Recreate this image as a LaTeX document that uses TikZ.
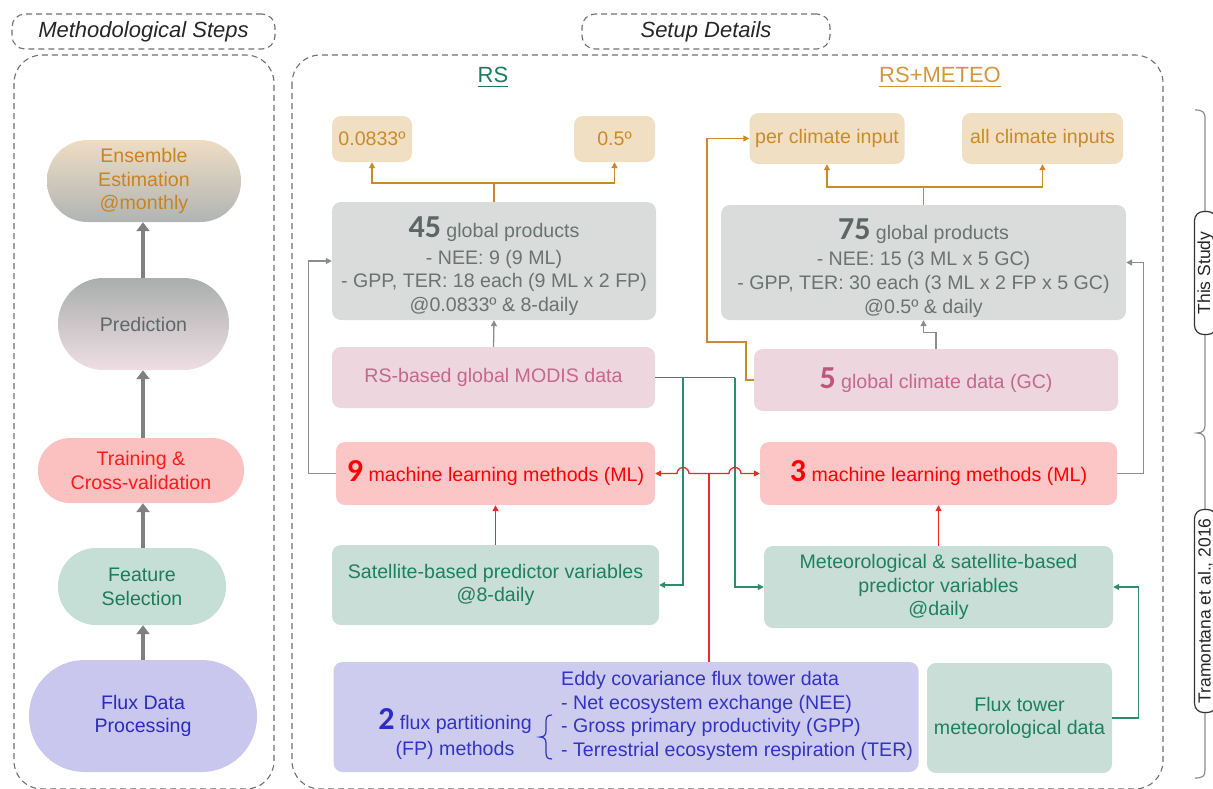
\documentclass[tikz,border=0pt]{standalone}
\usepackage{fontspec}
\setmainfont{Liberation Sans}
\newfontfamily\numfont{Carlito}
\usetikzlibrary{arrows.meta}
\definecolor{beigeF}{HTML}{F1DFC4}
\definecolor{orangeT}{HTML}{C98A2B}
\definecolor{grayF}{HTML}{DADCDB}
\definecolor{grayT}{HTML}{6B7371}
\definecolor{numG}{HTML}{5E6665}
\definecolor{pinkF}{HTML}{EDD6DD}
\definecolor{pinkT}{HTML}{C4688C}
\definecolor{numP}{HTML}{C0557C}
\definecolor{redF}{HTML}{FDC6C6}
\definecolor{redT}{HTML}{FF0000}
\definecolor{greenF}{HTML}{C9DED7}
\definecolor{greenT}{HTML}{1E8060}
\definecolor{purpF}{HTML}{CDCCEE}
\definecolor{blueT}{HTML}{3333C2}
\definecolor{numB}{HTML}{2D2DC0}
\definecolor{ocon}{HTML}{C98A2B}
\definecolor{gcon}{HTML}{8C8C8C}
\definecolor{grcon}{HTML}{2E8B6B}
\definecolor{rcon}{HTML}{E82A2A}
\definecolor{dashC}{HTML}{707070}
\definecolor{stepA}{HTML}{808080}
\definecolor{ensTop}{HTML}{EEDDC3}
\definecolor{ensBot}{HTML}{B0B4B4}
\definecolor{ensText}{HTML}{C9841F}
\definecolor{predTop}{HTML}{A9AEAD}
\definecolor{predBot}{HTML}{EFDEE4}
\definecolor{predText}{HTML}{5F6767}
\definecolor{trainF}{HTML}{FBC1C1}
\definecolor{trainT}{HTML}{FF1A1A}
\definecolor{featF}{HTML}{C6DFD6}
\definecolor{featT}{HTML}{1F7A5A}
\definecolor{fluxF}{HTML}{C9C7EE}
\definecolor{fluxT}{HTML}{2B2BB8}
\definecolor{rsG}{HTML}{1F7A5A}
\definecolor{rsO}{HTML}{D4963C}
\newcommand{\bnum}[2]{{\numfont\bfseries\fontsize{32}{32}\selectfont\color{#1}#2}}
\begin{document}
\begin{tikzpicture}[x=1pt,y=-1pt,
  base/.style={font=\fontsize{19.6}{23.7}\selectfont, align=center, inner sep=0pt},
  dashbox/.style={draw=dashC, line width=1.1pt, dash pattern=on 6pt off 4pt},
  hdr/.style={dashbox, base, rounded corners=13pt, font=\fontsize{22}{26}\selectfont\itshape, text=black!85},
  rbox/.style={base, rounded corners=9pt},
  beige/.style={rbox, fill=beigeF, text=orangeT},
  grayb/.style={rbox, fill=grayF, text=grayT},
  pinkb/.style={rbox, fill=pinkF, text=pinkT},
  redb/.style={rbox, fill=redF, text=redT},
  greenb/.style={rbox, fill=greenF, text=greenT},
  purpb/.style={rbox, fill=purpF, text=blueT},
  steparrow/.style={draw=stepA, line width=4.5pt, -{Triangle[length=9pt,width=13pt]}},
  tip/.style={-{Triangle[length=6pt,width=6pt]}},
  oline/.style={draw=ocon, line width=1.3pt},
  gline/.style={draw=gcon, line width=1.3pt},
  grline/.style={draw=grcon, line width=1.3pt},
  rline/.style={draw=rcon, line width=1.3pt},
  heading/.style={base, font=\fontsize{22}{26}\selectfont},
  lbl/.style={base, draw=black!80, line width=1.2pt, fill=white, rounded corners=9pt, rotate=90, font=\fontsize{17.5}{21}\selectfont, text=black!85}
]
\path[use as bounding box] (0,0) rectangle (1213,788);
\clip (0,0) rectangle (1213,788);

% panels
\node[hdr, minimum width=263pt, minimum height=35pt] (hdrL) at (143.5,31.5) {Methodological Steps};
\node[hdr, minimum width=248pt, minimum height=35pt] (hdrR) at (706,31.5) {Setup Details};
\draw[dashbox, rounded corners=28pt] (14,55) rectangle (274,789);
\draw[dashbox, rounded corners=28pt] (292,55) rectangle (1163,789);

% methodological steps
\node[base, rounded corners=40.5pt, top color=ensTop, bottom color=ensBot, text=ensText, minimum width=194pt, minimum height=82pt] (ens) at (144,181) {Ensemble\\Estimation\\@monthly};
\node[base, rounded corners=45.5pt, top color=predTop, bottom color=predBot, text=predText, minimum width=171pt, minimum height=92pt] (pred) at (143.5,324) {Prediction};
\node[base, rounded corners=32pt, fill=trainF, text=trainT, minimum width=206pt, minimum height=65pt] (train) at (141,470.5) {Training \&\\Cross-validation};
\node[base, rounded corners=38pt, fill=featF, text=featT, minimum width=168pt, minimum height=77pt] (feat) at (142,586.5) {Feature\\Selection};
\node[base, rounded corners=55.5pt, fill=fluxF, text=fluxT, minimum width=228pt, minimum height=112pt] (fluxp) at (143,716) {Flux Data\\Processing};
\draw[steparrow] (pred.north -| 143,0) -- (ens.south -| 143,0);
\draw[steparrow] (train.north -| 143,0) -- (pred.south -| 143,0);
\draw[steparrow] (feat.north -| 143,0) -- (train.south -| 143,0);
\draw[steparrow] (fluxp.north -| 143,0) -- (feat.south -| 143,0);

% headings
\node[heading, text=rsG] (rs) at (493,75) {RS};
\node[heading, text=rsO] (rsm) at (940,75) {RS+METEO};
\draw[rsG, line width=1.3pt] ([yshift=-4pt]rs.base west) -- ([yshift=-4pt]rs.base east);
\draw[rsO, line width=1.3pt] ([yshift=-4pt]rsm.base west) -- ([yshift=-4pt]rsm.base east);

% RS column
\node[beige, minimum width=80pt, minimum height=46pt] (r0833) at (372,139) {0.0833º};
\node[beige, minimum width=81pt, minimum height=46pt] (r05) at (614.5,139) {0.5º};
\node[grayb, minimum width=324pt, minimum height=118pt] (p45) at (494,261) {};
\node[base, text=grayT] (p45t) at (494,266) {\bnum{numG}{45} global products\\[3pt]- NEE: 9 (9 ML)\\- GPP, TER: 18 each (9 ML x 2 FP)\\@0.0833º \& 8-daily};
\node[pinkb, minimum width=323pt, minimum height=61pt] (modis) at (493.5,377.5) {RS-based global MODIS data};
\node[redb, minimum width=319pt, minimum height=63pt] (ml9) at (495.5,473.5) {\bnum{redT}{9} machine learning methods (ML)};
\node[greenb, minimum width=327pt, minimum height=80pt] (sat) at (495.5,585) {Satellite-based predictor variables\\@8-daily};

% RS+METEO column
\node[beige, minimum width=155pt, minimum height=51pt] (pci) at (827,138.5) {per climate input};
\node[beige, minimum width=161pt, minimum height=51pt] (aci) at (1042.5,138.5) {all climate inputs};
\node[grayb, minimum width=405pt, minimum height=115pt] (p75) at (923.5,262.5) {};
\node[base, text=grayT] (p75t) at (923.5,268) {\bnum{numG}{75} global products\\[3pt]- NEE: 15 (3 ML x 5 GC)\\- GPP, TER: 30 each (3 ML x 2 FP x 5 GC)\\@0.5º \& daily};
\node[pinkb, minimum width=364pt, minimum height=62pt] (gc) at (936,380) {\bnum{numP}{5} global climate data (GC)};
\node[redb, minimum width=357pt, minimum height=63pt] (ml3) at (938.5,473.5) {\bnum{redT}{3} machine learning methods (ML)};
\node[greenb, minimum width=349pt, minimum height=82pt] (meteo) at (938.5,587) {Meteorological \& satellite-based\\predictor variables\\@daily};

% bottom row
\node[purpb, minimum width=585pt, minimum height=110pt] (eddy) at (626,717) {};
\node[base, text=blueT] (eddyL) at (455,734) {\bnum{numB}{2} flux partitioning\\[2.4pt](FP) methods};
\node[base, text=blueT, align=left, anchor=north west] (eddyR) at (561,671) {Eddy covariance flux tower data\\- Net ecosystem exchange (NEE)\\- Gross primary productivity (GPP)\\- Terrestrial ecosystem respiration (TER)};
\draw[blueT, line width=1.2pt] (552,715) .. controls (547,715) and (546,717) .. (546,722) -- (546,731) .. controls (546,735) and (544,737) .. (540,737) .. controls (544,737) and (546,739) .. (546,743) -- (546,752) .. controls (546,757) and (547,759) .. (552,759);
\node[greenb, minimum width=185pt, minimum height=110pt] (ftmet) at (1019.5,718) {Flux tower\\meteorological data};

% orange connectors
\coordinate (oj1) at (494,183);
\coordinate (oj2) at (923.5,187);
\draw[oline] (p45.north) -- (oj1);
\draw[oline, tip] (oj1) -| (r0833.south);
\draw[oline, tip] (oj1) -| (r05.south);
\draw[oline] (p75.north) -- (oj2);
\draw[oline, tip] (oj2) -| (pci.south);
\draw[oline, tip] (oj2) -| (aci.south);
\coordinate (oa) at (746,342);
\coordinate (ob) at (707,342);
\draw[oline, tip] (gc.west) -| (oa) -- (ob) |- (pci.west);

% gray connectors
\draw[gline, tip] (modis.north) -- (p45.south);
\draw[gline, tip] (gc.north) -- ++(0,-16) -| (p75.south);
\draw[gline, tip] (ml9.west) -- ++(-27,0) |- (p45.west);
\draw[gline, tip] (ml3.east) -- ++(26,0) |- (p75.east);

% green connectors
\coordinate (g1) at (683,377.5);
\coordinate (g2) at (735,377.5);
\draw[grline] (modis.east) -- (g2);
\draw[grline, tip] (g1) |- (sat.east);
\draw[grline, tip] (g2) |- (meteo.west);
\draw[grline, tip] (ftmet.east) -- ++(26,0) |- (meteo.east);

% red connectors
\draw[rline, tip] (sat.north) -- (ml9.south);
\draw[rline, tip] (meteo.north) -- (ml3.south);
\coordinate (rj) at (709,473.5);
\draw[rline] (eddy.north -| rj) -- (rj);
\draw[rline, tip] (rj) -- (689,473.5) arc[start angle=0, end angle=180, radius=6pt] -- (ml9.east);
\draw[rline, tip] (rj) -- (729,473.5) arc[start angle=180, end angle=0, radius=6pt] -- (ml3.west);

% study brackets
\draw[gline, line width=1.2pt] (1195,110) .. controls (1203,110) and (1205,112) .. (1205,119) -- (1205,425) .. controls (1205,430) and (1203,433) .. (1197,433) .. controls (1203,433) and (1205,436) .. (1205,441) -- (1205,770) .. controls (1205,776) and (1203,778) .. (1195,778);
\node[lbl, minimum width=123pt, minimum height=22pt] (ts) at (1205.5,273) {This Study};
\node[lbl, minimum width=203pt, minimum height=22pt] (tr) at (1205.5,611) {Tramontana et al., 2016};
\end{tikzpicture}
\end{document}
